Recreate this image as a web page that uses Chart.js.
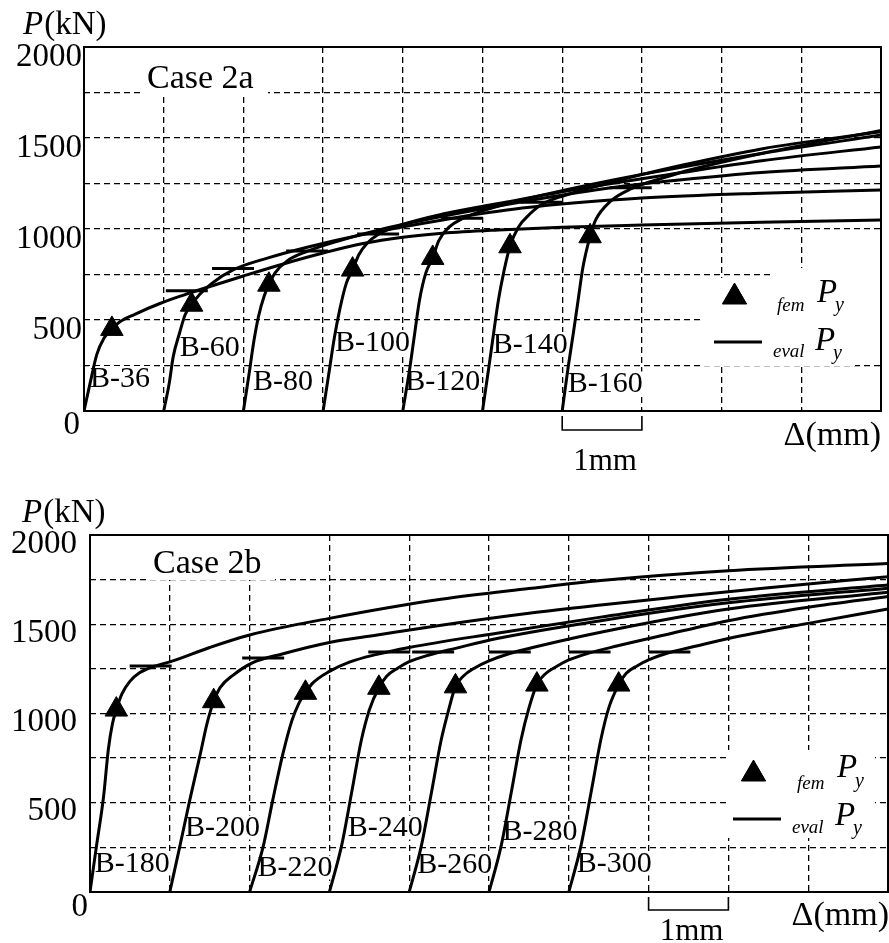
<!DOCTYPE html>
<html>
<head>
<meta charset="utf-8">
<script src="https://cdn.jsdelivr.net/npm/chart.js@4.4.1/dist/chart.umd.min.js"></script>
<style>
  html, body { margin: 0; padding: 0; background: #fff; }
  #wrap { position: relative; width: 889px; height: 943px; overflow: hidden; }
  canvas { position: absolute; left: 0; }
</style>
</head>
<body>
<div id="wrap">
  <canvas id="chartA" width="889" height="475" style="top:0"></canvas>
  <canvas id="chartB" width="889" height="468" style="top:475px"></canvas>
</div>
<script>
// ---- Case 2a : load P (kN) vs displacement (mm), each curve shifted by 1 mm ----
const namesA = ['B-36', 'B-60', 'B-80', 'B-100', 'B-120', 'B-140', 'B-160'];
const b36 = [[0,0],[0.08,160],[0.16,310],[0.25,400],[0.35,451],[0.45,490],[0.63,530],[0.96,592],[1.25,637],[1.55,680],[2.0,742],[2.5,808],[3.0,868],[3.5,920],[4.0,955],[4.5,977],[5.2,995],[6.0,1010],[7.0,1022],[8.5,1037],[10,1049]];
const b60 = [[1,0],[1.07,154],[1.12,300],[1.2,430],[1.27,530],[1.35,584],[1.45,640],[1.6,700],[1.87,775],[2.3,840],[2.8,900],[3.5,970],[4.5,1050],[5.5,1115],[7,1170],[8.5,1197],[10,1214]];
const b80 = [[2,0],[2.07,200],[2.13,380],[2.19,520],[2.26,630],[2.32,694],[2.4,760],[2.55,825],[2.8,877],[3.2,935],[3.7,995],[4.5,1070],[5.5,1150],[6.5,1220],[7.5,1270],[8.5,1310],[10,1346]];
const b100 = [[3,0],[3.07,200],[3.14,400],[3.21,560],[3.29,700],[3.37,777],[3.45,860],[3.55,920],[3.69,970],[4.0,1025],[4.5,1082],[5.2,1140],[6.2,1220],[7.5,1310],[8.5,1375],[10,1451]];
const b120 = [[4,0],[4.09,242],[4.15,429],[4.21,610],[4.29,760],[4.375,841],[4.45,935],[4.58,1010],[4.74,1055],[5.0,1100],[5.5,1160],[6.2,1230],[7.0,1300],[8.5,1415],[10,1516]];
const b140 = [[5,0],[5.08,242],[5.14,429],[5.2,610],[5.27,770],[5.345,905],[5.45,1010],[5.6,1085],[5.74,1135],[6.0,1180],[6.6,1255],[7.5,1350],[8.5,1440],[10,1535]];
const b160 = [[6,0],[6.075,242],[6.14,429],[6.2,610],[6.26,790],[6.35,960],[6.42,1050],[6.6,1150],[6.86,1220],[7.3,1285],[7.6,1324],[8.5,1415],[10,1542]];
const femA = [[0.35,451],[1.35,584],[2.32,694],[3.37,777],[4.375,841],[5.345,905],[6.35,960]];
const evalA = [[1.29,661],[1.87,783],[2.8,879],[3.69,973],[4.74,1059],[5.74,1147],[6.86,1227]];
const labelPosA = [[0.075,181],[1.2,349],[2.12,165],[3.15,379],[4.03,165],[5.13,368],[6.07,151]];

// ---- Case 2b ----
const namesB = ['B-180', 'B-200', 'B-220', 'B-240', 'B-260', 'B-280', 'B-300'];
const b180 = [[0,0],[0.08,254],[0.17,534],[0.23,800],[0.28,940],[0.33,1022],[0.4,1110],[0.5,1180],[0.62,1228],[0.79,1262],[1.02,1292],[1.5,1370],[2,1440],[3,1533],[4.4,1640],[5.5,1700],[6.4,1745],[8,1800],[10,1840]];
const b200 = [[1,0],[1.125,254],[1.25,515],[1.375,758],[1.47,950],[1.55,1069],[1.63,1145],[1.79,1214],[2.04,1285],[2.42,1335],[3,1398],[3.6,1440],[4.4,1495],[5.5,1562],[6.4,1608],[7.4,1655],[8.5,1705],[10,1766]];
const b220 = [[2,0],[2.17,254],[2.29,515],[2.42,779],[2.53,960],[2.62,1060],[2.7,1116],[2.79,1170],[3.0,1236],[3.25,1288],[3.58,1330],[4.0,1370],[5.1,1450],[6.4,1540],[8,1640],[10,1720]];
const b240 = [[3,0],[3.15,254],[3.28,560],[3.4,850],[3.5,1020],[3.62,1144],[3.72,1210],[3.85,1252],[4.0,1290],[4.25,1328],[4.58,1365],[5.1,1420],[6.4,1520],[8,1620],[10,1702]];
const b260 = [[4,0],[4.15,254],[4.28,560],[4.4,850],[4.5,1030],[4.58,1152],[4.68,1210],[4.82,1255],[5.0,1295],[5.25,1335],[5.6,1375],[6.4,1455],[8,1585],[10,1680]];
const b280 = [[5,0],[5.15,254],[5.28,560],[5.4,850],[5.5,1030],[5.6,1162],[5.7,1220],[5.84,1262],[6.0,1300],[6.25,1338],[6.6,1378],[7.2,1440],[8,1520],[9,1595],[10,1655]];
const b300 = [[6,0],[6.15,254],[6.28,560],[6.4,850],[6.5,1030],[6.625,1162],[6.72,1225],[6.86,1268],[7.0,1300],[7.25,1340],[7.6,1378],[8.0,1420],[9.0,1505],[10,1585]];
const femB = [[0.33,1022],[1.55,1069],[2.7,1116],[3.62,1144],[4.58,1152],[5.6,1162],[6.625,1162]];
const evalB = [[0.76,1266],[2.17,1311],[3.75,1345],[4.3,1345],[5.26,1345],[6.26,1345],[7.26,1345]];
const labelPosB = [[0.06,160],[1.19,361],[2.1,137],[3.23,361],[4.1,157],[5.17,339],[6.1,160]];

const serif = '"Liberation Serif", "Times New Roman", serif';

function toXY(pts) {
  return pts.map(p => ({ x: p[0], y: p[1] }));
}

function drawLegend(ctx, lg) {
  ctx.save();
  ctx.fillStyle = '#fff';
  lg.boxes.forEach(b => ctx.fillRect(b[0], b[1], b[2], b[3]));
  ctx.fillStyle = '#000';
  ctx.strokeStyle = '#000';
  Chart.helpers.drawPoint(ctx, { pointStyle: 'triangle', radius: 14, borderWidth: 1 }, lg.tri[0], lg.tri[1]);
  ctx.fill();
  ctx.lineWidth = 3;
  ctx.beginPath();
  ctx.moveTo(lg.line[0], lg.line[2]);
  ctx.lineTo(lg.line[1], lg.line[2]);
  ctx.stroke();
  ctx.textBaseline = 'alphabetic';
  ctx.textAlign = 'left';
  ctx.font = 'italic 19px ' + serif;
  ctx.fillText('fem', lg.fem[0], lg.fem[1]);
  ctx.fillText('eval', lg.ev[0], lg.ev[1]);
  ctx.font = 'italic 33px ' + serif;
  ctx.fillText('P', lg.p1[0], lg.p1[1]);
  ctx.fillText('P', lg.p2[0], lg.p2[1]);
  ctx.font = 'italic 20px ' + serif;
  ctx.fillText('y', lg.y1[0], lg.y1[1]);
  ctx.fillText('y', lg.y2[0], lg.y2[1]);
  ctx.restore();
}

function buildChart(id, o) {
  const datasets = [];
  o.curves.forEach(pts => {
    datasets.push({
      data: toXY(pts),
      showLine: true,
      borderColor: '#000',
      borderWidth: 3,
      pointRadius: 0,
      cubicInterpolationMode: 'monotone',
      fill: false
    });
  });
  datasets.push({
    data: toXY(o.fem),
    showLine: false,
    pointStyle: 'triangle',
    pointRadius: 13,
    pointBackgroundColor: '#000',
    pointBorderColor: '#000',
    pointBorderWidth: 1
  });
  datasets.push({
    data: toXY(o.ev),
    showLine: false,
    pointStyle: 'line',
    pointRadius: 21,
    pointBorderColor: '#000',
    pointBorderWidth: 3
  });

  const gridOpts = { color: '#000', lineWidth: 1.3, drawTicks: false };

  const decor = {
    id: 'decor' + id,
    beforeDatasetsDraw(chart) {
      const ctx = chart.ctx;
      const xs = chart.scales.x, ys = chart.scales.y;
      ctx.save();
      // case caption
      ctx.fillStyle = '#fff';
      ctx.fillRect(o.caseBox[0], o.caseBox[1], o.caseBox[2], o.caseBox[3]);
      ctx.fillStyle = '#000';
      ctx.font = '34px ' + serif;
      ctx.textBaseline = 'alphabetic';
      ctx.textAlign = 'left';
      ctx.fillText(o.caseText, o.casePos[0], o.casePos[1]);
      // specimen labels
      ctx.font = '30px ' + serif;
      ctx.textBaseline = 'middle';
      o.names.forEach((name, i) => {
        const px = xs.getPixelForValue(o.labelPos[i][0]);
        const py = ys.getPixelForValue(o.labelPos[i][1]);
        const w = ctx.measureText(name).width;
        ctx.fillStyle = '#fff';
        ctx.fillRect(px - 1, py - 12, w + 2, 24);
        ctx.fillStyle = '#000';
        ctx.fillText(name, px, py + 1);
      });
      ctx.restore();
      drawLegend(ctx, o.legend);
    },
    afterDatasetsDraw(chart) {
      const ctx = chart.ctx;
      const a = chart.chartArea;
      const xs = chart.scales.x;
      ctx.save();
      ctx.strokeStyle = '#000';
      ctx.lineWidth = 2;
      ctx.strokeRect(a.left, a.top, a.right - a.left, a.bottom - a.top);
      // 1 mm scale bracket
      const x1 = xs.getPixelForValue(o.bracket[0]);
      const x2 = xs.getPixelForValue(o.bracket[1]);
      ctx.lineWidth = 1.6;
      ctx.beginPath();
      ctx.moveTo(x1, o.bracketY[0]);
      ctx.lineTo(x1, o.bracketY[1]);
      ctx.lineTo(x2, o.bracketY[1]);
      ctx.lineTo(x2, o.bracketY[0]);
      ctx.stroke();
      ctx.fillStyle = '#000';
      ctx.textBaseline = 'alphabetic';
      ctx.font = '31px ' + serif;
      ctx.textAlign = 'center';
      ctx.fillText('1mm', (x1 + x2) / 2 + 3, o.mmBase);
      // axis titles
      ctx.font = '34px ' + serif;
      ctx.textAlign = 'right';
      ctx.fillText('\u0394(mm)', o.deltaPos[0], o.deltaPos[1]);
      ctx.textAlign = 'left';
      ctx.font = 'italic 33px ' + serif;
      ctx.fillText('P', o.pPos[0], o.pPos[1]);
      const wP = ctx.measureText('P').width;
      ctx.font = '33px ' + serif;
      ctx.fillText('(kN)', o.pPos[0] + wP + 1, o.pPos[1]);
      // origin label
      ctx.font = '33px ' + serif;
      ctx.textAlign = 'right';
      ctx.textBaseline = 'middle';
      ctx.fillText('0', o.zero[0], o.zero[1]);
      ctx.restore();
    }
  };

  return new Chart(document.getElementById(id), {
    type: 'scatter',
    data: { datasets },
    options: {
      responsive: false,
      animation: false,
      events: [],
      layout: { autoPadding: false, padding: { top: o.top, right: 889 - o.right, bottom: 0, left: 0 } },
      plugins: { legend: { display: false }, tooltip: { enabled: false } },
      scales: {
        x: {
          type: 'linear', min: 0, max: 10,
          ticks: { stepSize: 1, display: false },
          grid: gridOpts,
          border: { display: false, dash: [6, 4] },
          afterFit(s) { s.height = o.h - o.bottom; }
        },
        y: {
          type: 'linear', min: 0, max: 2000,
          ticks: {
            stepSize: 250, autoSkip: false, padding: o.tickPad, labelOffset: o.labelOff,
            color: '#000', font: { family: serif, size: 33 },
            callback: v => (v % 500 === 0 && v !== 0) ? String(v) : ''
          },
          grid: gridOpts,
          border: { display: false, dash: [6, 4] },
          afterFit(s) { s.width = o.left; }
        }
      }
    },
    plugins: [decor]
  });
}

buildChart('chartA', {
  h: 475, left: 84, top: 47, right: 881, bottom: 411, tickPad: 2, labelOff: 10,
  curves: [b36, b60, b80, b100, b120, b140, b160],
  fem: femA, ev: evalA, names: namesA, labelPos: labelPosA,
  caseText: 'Case 2a', casePos: [147, 88], caseBox: [140, 48, 128, 48],
  zero: [80, 425], pPos: [23, 34], deltaPos: [881, 445],
  bracket: [6, 7], bracketY: [416, 430], mmBase: 470,
  legend: {
    boxes: [[770, 268, 110, 54], [703, 278, 152, 88]],
    tri: [734.5, 297], line: [714, 762, 342],
    fem: [777, 311], p1: [817, 302], y1: [835, 311],
    ev: [773, 357], p2: [815, 350], y2: [833, 359]
  }
});

buildChart('chartB', {
  h: 468, left: 90, top: 60, right: 888, bottom: 417, tickPad: 13, labelOff: 9,
  curves: [b180, b200, b220, b240, b260, b280, b300],
  fem: femB, ev: evalB, names: namesB, labelPos: labelPosB,
  caseText: 'Case 2b', casePos: [153, 98], caseBox: [148, 61, 127, 44],
  zero: [88, 432], pPos: [22, 47], deltaPos: [889, 450],
  bracket: [7, 8], bracketY: [422, 435], mmBase: 465,
  legend: {
    boxes: [[728, 275, 147, 88]],
    tri: [753.5, 299], line: [733, 781, 344],
    fem: [797, 314], p1: [837, 302], y1: [855, 312],
    ev: [792, 358], p2: [835, 350], y2: [853, 359]
  }
});
</script>
</body>
</html>
